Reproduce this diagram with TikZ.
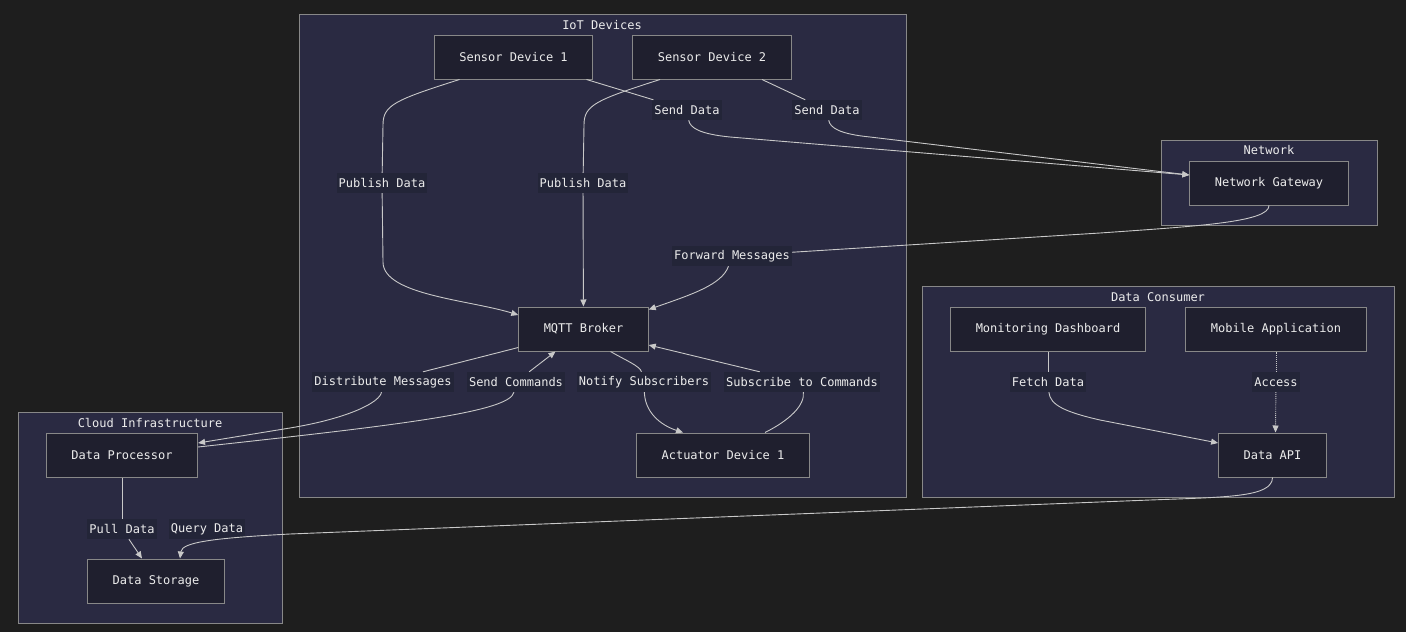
\documentclass[tikz,border=0pt]{standalone}
\usepackage{fontspec}
\setmonofont{DejaVu Sans Mono}
\usetikzlibrary{arrows.meta}
\definecolor{bgdark}{RGB}{30,30,30}
\definecolor{clusterbg}{RGB}{42,42,66}
\definecolor{nodebg}{RGB}{31,31,46}
\definecolor{lblbg}{RGB}{35,37,56}
\definecolor{rimgray}{RGB}{136,136,136}
\definecolor{wiregray}{RGB}{200,200,200}
\definecolor{txt}{RGB}{236,236,236}

\begin{document}
\begin{tikzpicture}[x=1pt,y=-1pt,>={Triangle[length=7pt,width=6pt]},
  every node/.style={font=\ttfamily\fontsize{12}{14}\selectfont,text=txt},
  box/.style={draw=rimgray,fill=nodebg,line width=1pt,minimum height=44pt,inner xsep=25pt},
  group/.style={draw=rimgray,fill=clusterbg,line width=1pt},
  lbl/.style={fill=lblbg,inner xsep=2pt,inner ysep=0pt,minimum height=20pt},
  wire/.style={draw=wiregray,line width=0.9pt},
  dotwire/.style={wire,densely dotted}]
            \fill[bgdark] (0,0) rectangle (1406,632);
            \draw[group] (299,14) rectangle (906,497);
            \draw[group] (1161,140) rectangle (1377,225);
            \draw[group] (922,286) rectangle (1394,497);
            \draw[group] (18,412) rectangle (282,623);
            \node (iott) at (602,25) {IoT Devices};
            \node (nett) at (1269,150) {Network};
            \node (cont) at (1158,297) {Data Consumer};
            \node (cldt) at (150,423) {Cloud Infrastructure};
            \node[box] (sd1) at (513.5,57) {Sensor Device 1};
            \node[box] (sd2) at (712,57) {Sensor Device 2};
            \node[box] (mqtt) at (583.5,329) {MQTT Broker};
            \node[box] (act) at (723,455) {Actuator Device 1};
            \node[box] (gw) at (1269,183) {Network Gateway};
            \node[box] (dash) at (1048,329) {Monitoring Dashboard};
            \node[box] (mob) at (1276,329) {Mobile Application};
            \node[box] (api) at (1272.5,455) {Data API};
            \node[box] (dp) at (122,455) {Data Processor};
            \node[box] (ds) at (156,581) {Data Storage};
            \node[lbl] (pub1) at (382,183) {Publish Data};
            \node[lbl] (pub2) at (583,183) {Publish Data};
            \node[lbl] (send1) at (687,110) {Send Data};
            \node[lbl] (send2) at (827,110) {Send Data};
            \node[lbl] (fwd) at (732,256) {Forward Messages};
            \node[lbl] (dist) at (383,382) {Distribute Messages};
            \node[lbl] (cmd) at (516,382) {Send Commands};
            \node[lbl] (notify) at (644,382) {Notify Subscribers};
            \node[lbl] (sub) at (802,382) {Subscribe to Commands};
            \node[lbl] (pull) at (122,529) {Pull Data};
            \node[lbl] (query) at (207,529) {Query Data};
            \node[lbl] (fetch) at (1048,382) {Fetch Data};
            \node[lbl] (acc) at (1276,382) {Access};
            \draw[wire] ([xshift=-54pt]sd1.south) .. controls (395,100) and (383,105) .. (383,125) -- (pub1);
            \draw[wire,->] (pub1) -- (383,262) .. controls (383,295) and (470,300) .. ([yshift=14pt]mqtt.west);
            \draw[wire] ([xshift=-52pt]sd2.south) .. controls (596,100) and (584,105) .. (584,125) -- (pub2);
            \draw[wire,->] (pub2) -- (mqtt);
            \draw[wire] ([xshift=73pt]sd1.south) -- (send1);
            \draw[wire,->] (send1) .. controls (690,128) and (700,134) .. (730,137) -- ([yshift=8pt]gw.west);
            \draw[wire] ([xshift=50pt]sd2.south) -- (send2);
            \draw[wire,->] (send2) .. controls (830,128) and (840,134) .. (870,137) -- ([yshift=8pt]gw.west);
            \draw[wire] (gw.south) .. controls (1269,222) and (1200,226) .. (1100,233) -- (fwd);
            \draw[wire,->] (fwd) .. controls (722,285) and (690,295) .. ([yshift=-3pt]mqtt.north east);
            \draw[wire] ([yshift=4pt]mqtt.south west) -- (dist);
            \draw[wire,->] (dist) .. controls (380,402) and (350,418) .. (290,428) -- ([yshift=12pt]dp.east);
            \draw[wire] ([yshift=8pt]dp.east) .. controls (400,425) and (510,412) .. (cmd);
            \draw[wire,->] (cmd) -- ([xshift=-28pt]mqtt.south);
            \draw[wire] ([xshift=27pt]mqtt.south) .. controls (625,360) and (640,366) .. (notify);
            \draw[wire,->] (notify) .. controls (645,412) and (660,425) .. ([xshift=-40pt]act.north);
            \draw[wire] ([xshift=42pt]act.north) .. controls (790,420) and (805,405) .. (sub);
            \draw[wire,->] (sub) -- ([yshift=-16pt]mqtt.east);
            \draw[wire] (dp) -- (pull);
            \draw[wire,->] (pull) -- ([xshift=-14pt]ds.north);
            \draw[wire,->] (api.south) .. controls (1272,497) and (1230,497) .. (1150,500) -- (290,534) .. controls (215,538) and (182,542) .. ([xshift=24pt]ds.north);
            \draw[wire] (dash) -- (fetch);
            \draw[wire,->] (fetch) .. controls (1050,405) and (1065,412) .. (1100,420) -- ([yshift=12pt]api.west);
            \draw[dotwire] (mob) -- (acc);
            \draw[dotwire,->] (acc) -- ([xshift=3pt]api.north);
\end{tikzpicture}
\end{document}
